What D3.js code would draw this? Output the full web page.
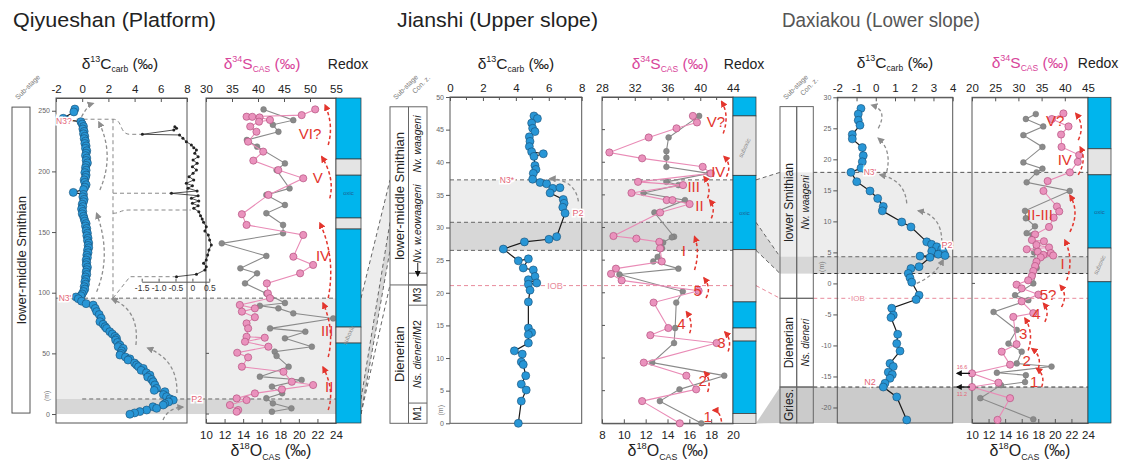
<!DOCTYPE html>
<html><head><meta charset="utf-8">
<script src="https://cdn.jsdelivr.net/npm/d3@7"></script>
<style>
body{margin:0;background:#fff;}
svg{font-family:"Liberation Sans",Arial,sans-serif;}
</style></head><body>
<script>
// ===== Data: [height (m), value (‰)] =====
// Qiyueshan (platform)
const qyCarb = [[251.4,-0.56],[249.0,-0.64],[243.8,-1.45],[242.4,-1.24],[241,-0.10],[239,0.00],[237,0.10],[235,0.05],[233,0.15],[231,0.10],[229,0.20],[227,0.15],[225,0.25],[223,0.20],[221,0.30],[219,0.25],[217,0.35],[215,0.30],[213,0.25],[211,0.35],[209,0.30],[207,0.40],[205,0.30],[203,0.25],[201,0.30],[199,0.20],[197,0.30],[195,0.25],[193,0.15],[191,0.20],[189,0.30],[187,0.20],[185,0.10],[182.7,-0.68],[181,0.10],[179,0.05],[177,0.15],[175,0.10],[173,0.00],[171,0.05],[169,-0.05],[167,0.05],[165,0.00],[163,0.10],[161,0.15],[159,0.20],[157,0.30],[155,0.25],[153,0.35],[151,0.30],[149,0.40],[147,0.35],[145,0.45],[143,0.40],[141,0.50],[139,0.45],[137,0.50],[135,0.40],[133,0.45],[131,0.35],[129,0.40],[127,0.30],[125,0.35],[123,0.30],[121,0.40],[119,0.35],[117,0.30],[115,0.35],[113,0.25],[111,0.30],[109,0.20],[107,0.25],[105,0.15],[103,0.20],[101,0.10],[99,0.00],[97.5,-0.10],[96.5,-0.48],[95,-0.30],[93,-0.05],[91,0.30],[89.8,0.84],[87,1.00],[84.4,1.10],[82,1.30],[79,1.45],[76.1,1.35],[74,1.60],[72,1.75],[70.6,1.86],[67.9,2.11],[66,2.30],[64,2.50],[62.4,2.62],[61,2.55],[59,2.70],[56.9,2.88],[55.5,2.75],[54.1,3.13],[52,3.00],[50,2.95],[48.6,2.88],[47,3.30],[45.5,3.64],[44.5,3.50],[42,4.00],[40.4,4.15],[39,4.30],[37.6,4.66],[36,4.50],[34,4.90],[32.1,5.17],[30.5,5.00],[28.5,5.30],[26.6,5.42],[24,5.55],[21.1,5.68],[19.5,5.50],[18.4,6.31],[16,6.20],[14.3,6.44],[12.5,6.70],[11.5,6.95],[10,6.60],[8.5,6.30],[7.4,6.18],[6,5.40],[4.7,5.68],[3.3,4.92],[2,4.40],[0.9,4.00],[-0.2,3.64]];
const qyCarbDetail = [[250.9,-0.52],[249.2,-0.47],[247.5,-0.55],[243.0,-1.48],[242.3,-0.38],[238.9,-0.28],[235.4,-0.18],[232.0,-0.03],[229.2,0.04],[226.8,0.12],[223.4,0.07],[219.8,0.17],[216.4,0.02],[213.0,0.14],[209.5,0.00],[206.1,0.12],[202.7,0.02],[199.2,-0.10],[195.8,0.04],[192.3,-0.18],[189.9,0.00],[187.2,-0.13],[184.4,0.14],[182.0,-0.62],[179.6,0.17],[177.0,-0.03],[174.4,0.19],[172.1,0.00],[169.7,0.17],[167.2,0.04],[163.7,0.19],[159.6,0.24],[156.1,0.29],[152.7,0.33],[148.1,0.41],[143.6,0.37],[139.5,0.47],[134.2,0.51],[129.0,0.56],[123.8,0.49],[118.6,0.45],[113.4,0.41],[110.0,0.33],[106.4,0.41],[103.0,0.37],[98.5,0.12],[96.0,-0.47]];
const qyS = [[251.1,51.0],[246.4,48.4],[245.1,37.8],[245.0,38.9],[244.5,40.3],[242.4,42.3],[241.0,40.2],[237.0,38.5],[232.7,39.7],[224.5,38.1],[216.3,41.0],[208.9,39.1],[201.1,43.9],[194.3,48.7],[180.6,42.0],[164.7,36.9],[155.9,37.8],[147.6,48.7],[129.7,46.8],[122.9,50.6],[116.0,48.1],[107.7,41.7],[99.4,41.9],[95.5,42.3],[89.9,36.5],[87.1,39.4],[84.4,36.9],[79.8,39.4],[74.7,37.8],[70.6,38.1],[63.7,37.8],[62.9,41.3],[59.6,37.5],[55.5,42.0],[50.5,36.0],[46.7,38.1],[39.0,36.9],[34.8,44.9],[26.6,46.5],[23.9,50.6],[20.3,44.6],[17.0,39.4],[12.9,35.9],[11.5,37.8],[7.4,34.6],[3.3,36.2],[1.9,35.9]];
const qyO = [[251.1,16.2],[242.2,19.4],[238.4,17.2],[232.7,17.8],[225.9,14.4],[220.4,15.5],[206.6,18.5],[201.1,17.6],[186.0,19.0],[180.6,16.5],[172.3,18.5],[165.5,16.5],[155.9,18.3],[149.0,18.3],[140.7,11.7],[130.3,16.5],[120.1,13.7],[116.0,15.5],[107.7,14.2],[99.4,16.5],[91.5,18.5],[89.2,15.8],[87.1,17.8],[83.0,19.4],[78.8,23.7],[70.6,16.9],[67.9,20.7],[62.4,18.5],[55.5,21.4],[51.4,17.4],[47.9,17.6],[39.0,18.9],[30.8,15.8],[28.1,20.3],[22.6,17.1],[17.1,18.2],[13.0,16.5],[8.8,17.2],[4.7,19.2],[1.9,17.1]];

// Jianshi (upper slope)
const jsCarb = [[47.1,5.10],[46.7,5.31],[46.0,4.96],[45.2,5.02],[44.7,5.16],[43.9,4.82],[43.2,4.86],[42.4,4.82],[41.6,4.96],[41.3,5.67],[40.9,5.10],[39.5,5.16],[38.9,5.22],[38.3,5.06],[37.4,5.02],[36.9,5.47],[36.7,5.87],[36.0,6.24],[36.1,6.68],[35.3,6.08],[34.3,6.88],[33.7,6.93],[33.1,6.85],[32.2,6.99],[28.6,6.48],[28.2,6.01],[27.8,4.52],[26.7,3.24],[24.9,4.15],[25.2,4.76],[23.8,4.45],[23.5,5.06],[22.5,5.16],[22.0,4.76],[21.5,5.27],[21.3,4.76],[20.4,4.86],[18.6,4.76],[14.6,4.76],[13.9,4.96],[13.6,4.76],[12.3,4.76],[11.1,3.91],[10.6,4.39],[9.4,4.33],[9.0,4.45],[7.3,4.60],[6.0,4.33],[5.1,4.63],[3.4,4.33],[0.0,4.15]];
const jsS = [[47.1,39.1],[46.1,39.6],[45.2,37.1],[43.8,33.7],[41.5,28.9],[40.6,32.9],[39.3,40.3],[38.3,41.3],[37.0,32.4],[36.5,37.9],[35.3,31.6],[34.2,35.9],[34.2,36.6],[33.6,38.7],[32.3,35.1],[28.7,29.4],[28.3,32.2],[27.8,35.0],[26.8,35.1],[24.8,35.3],[23.7,29.7],[22.9,29.1],[21.9,30.4],[20.3,39.8],[18.5,34.3],[14.6,36.1],[13.5,33.9],[12.3,42.0],[9.3,33.1],[7.3,38.3],[5.2,39.5],[3.4,32.9],[0.0,37.5]];
const jsO = [[47.1,16.9],[43.8,14.1],[41.7,13.9],[40.7,13.9],[39.3,13.9],[38.3,17.8],[37.0,13.9],[36.5,15.0],[35.3,11.8],[34.2,15.6],[32.3,12.8],[28.6,14.6],[28.5,14.4],[27.7,13.6],[26.8,13.5],[25.5,13.1],[24.8,12.7],[23.7,15.0],[22.8,9.6],[20.2,15.4],[18.5,14.8],[14.6,14.7],[12.3,14.6],[9.3,12.6],[7.3,19.2],[5.2,15.1],[3.4,13.3],[0.0,17.1]];

// Daxiakou (lower slope)
const dxCarb = [[28.2,-0.77],[27.3,-0.91],[26.3,-0.91],[25.5,-0.82],[24.0,-1.22],[23.3,-1.22],[21.9,-0.70],[20.6,-0.65],[19.6,-0.70],[18.6,-0.77],[17.9,-1.29],[16.4,-0.99],[14.9,-0.30],[13.7,0.10],[12.4,0.39],[11.7,0.34],[9.9,1.35],[9.1,1.83],[6.7,2.65],[6.3,2.90],[5.9,3.17],[5.5,3.43],[5.2,2.91],[5.1,3.51],[4.7,3.25],[4.5,3.60],[4.4,2.30],[4.2,2.82],[2.7,2.25],[2.4,1.83],[1.6,1.69],[0.9,1.78],[0.2,1.87],[-1.9,2.25],[-2.6,2.10],[-4.0,0.83],[-5.1,0.91],[-5.5,0.79],[-8.2,1.14],[-9.7,1.09],[-10.9,1.26],[-12.9,0.74],[-13.4,0.91],[-14.3,0.65],[-14.7,0.86],[-15.3,0.74],[-16.1,0.48],[-16.7,0.39],[-18.3,1.09],[-22.0,1.61]];
const dxS = [[27.4,39.7],[26.5,37.2],[25.3,40.8],[24.0,39.2],[22.0,39.3],[20.7,43.1],[19.6,42.8],[17.9,41.1],[16.5,36.3],[14.9,35.4],[12.4,38.3],[11.6,38.8],[10.6,37.6],[9.1,36.6],[7.9,33.6],[7.0,32.9],[6.8,35.5],[6.2,33.9],[5.8,36.6],[5.5,31.8],[5.1,34.2],[4.9,37.0],[4.6,35.4],[4.5,37.5],[4.2,34.8],[3.5,33.9],[2.8,33.6],[2.0,33.2],[1.2,32.9],[0.5,32.1],[-0.2,29.6],[-0.8,30.7],[-1.8,34.3],[-2.9,30.7],[-4.8,33.2],[-5.4,28.9],[-9.8,29.6],[-11.0,26.4],[-13.1,28.2],[-14.5,16.6],[-16.0,25.7],[-16.7,11.2],[-18.5,28.2],[-22.0,25.5]];
const dxO = [[27.3,17.7],[26.5,16.5],[25.3,18.6],[23.9,16.2],[22.0,18.5],[19.5,16.2],[18.5,18.5],[17.9,17.8],[16.3,16.6],[14.9,21.8],[11.7,16.4],[10.5,16.5],[9.2,17.6],[8.1,16.6],[7.8,17.3],[5.0,17.5],[2.5,17.8],[0.0,17.4],[-1.9,15.2],[-2.7,16.8],[-4.6,12.6],[-7.5,15.4],[-9.7,14.4],[-11.0,16.0],[-12.9,15.4],[-13.4,19.6],[-14.4,13.0],[-14.8,16.5],[-15.9,16.4],[-16.4,13.5],[-18.5,11.0],[-21.9,17.4]];

// Redox intervals [top, base, state]
const qyRedox = [[260.5,210.2,"oxic"],[210.2,196.9,"suboxic"],[196.9,161.6,"oxic"],[161.6,152.5,"suboxic"],[152.5,71.7,"oxic"],[71.7,58.5,"suboxic"],[58.5,-7.4,"oxic"]];
const jsRedox = [[50,47.1,"oxic"],[47.1,38.0,"suboxic"],[38.0,26.6,"oxic"],[26.6,18.6,"suboxic"],[18.6,14.6,"oxic"],[14.6,12.6,"suboxic"],[12.6,1.5,"oxic"],[1.5,0,"suboxic"]];
const dxRedox = [[30,21.7,"oxic"],[21.7,17.5,"suboxic"],[17.5,5.7,"oxic"],[5.7,0.26,"suboxic"],[0.26,-22.5,"oxic"]];
const qyRedoxTags = [[182.2,"oxic"],[65,"suboxic"]];
const jsRedoxTags = [[42.2,"suboxic"],[32.2,"oxic"]];
const dxRedoxTags = [[11.5,"oxic"],[3.0,"suboxic"]];

// Tick values
const qyCTicks = [-2,0,2,4,6,8], qySTicks = [30,35,40,45,50,55], qyOTicks = [10,12,14,16,18,20,22,24], qyHTicks = [0,50,100,150,200,250];
const qyDetailTicks = [-1.5,-1,-0.5,0,0.5];
const jsCTicks = [0,2,4,6,8], jsCMinor = [1,3,5,7], jsSTicks = [28,32,36,40,44], jsSMinor = [30,34,38,42], jsOTicks = [8,10,12,14,16,18,20], jsHTicks = [0,5,10,15,20,25,30,35,40,45,50];
const dxCTicks = [-2,-1,0,1,2,3,4], dxSTicks = [20,25,30,35,40,45], dxOTicks = [10,12,14,16,18,20,22,24], dxHTicks = [-20,-15,-10,-5,0,5,10,15,20,25,30];

// Marker horizons (m)
const qyHor = {n3q:243, n3p:95.5, p2:12.4, base:0};
const jsHor = {n3:37.3, p2:30.8, low:26.5, iob:21.1};
const dxHor = {n3:17.9, p2:4.3, low:1.6, iob:-2.4, n2:-16.7, bottom:-22.5};

// Sub-stages and zones [top, base, name]
const qySub = [[253,0.8,"lower-middle Smithian"]];
const jsSub = [[48.5,21.2,"lower-middle Smithian"],[21.2,0,"Dienerian"]];
const jsZoneLines = [23.0,21.2,18.1,3.1];
const dxSub = [[28.5,-2.4,"lower Smithian"],[-2.4,-16.7,"Dienerian"],[-16.7,-22.5,"Gries."]];
const dxZone = [[28.5,-2.4,"Nv. waageni"],[-2.4,-16.7,"Ns. dieneri"],[-16.7,-22.5,""]];

// Cycle arrows [[value,height] start, control, end] and labels
const qyCycles = [[[53.5,221.8],[54.6,238.3],[52.9,254.7]],[[53.8,177.8],[54.8,194.6],[52.25,212.1]],[[53.5,95.6],[55.0,128.6],[51.9,157.5]],[[53.5,47],[54.8,69.2],[52.5,91.5]],[[53.5,3.3],[54.8,19.8],[52.5,38.7]]];
const qyCycleTags = [["VI?",50.0,231.5],["V",51.5,194.6],["IV",52.5,131],["III",53.3,69],["II",53.7,22.3]];
const qyTrend = [[[6.17,-4.9],[6.54,4.9],[7.69,5.8]],[[7.23,17.3],[7.3,44.5],[5.0,54.4]],[[4.1,56.9],[4.4,85.7],[2.27,94.8]],[[1.1,100.8],[2.27,131],[1.1,165.5]],[[1.35,184.7],[2.5,213.5],[1.27,240.7]],[[-0.05,245],[0.43,254.7],[0.84,256.1]]];
const jsCycles = [[[42.8,44.4],[43.6,47.2],[42.6,49.3]],[[43.2,37.8],[43.9,39.6],[42.9,40.9]],[[40.9,34.5],[41.4,36.2],[40.45,37.8]],[[41.35,31.4],[41.9,33.0],[41.15,34.2]],[[39.3,23.5],[40.0,26.3],[39.3,28.6]],[[40.7,19.2],[41.4,20.7],[40.45,22.3]],[[38.7,13.8],[39.2,15.5],[38.3,17.1]],[[43.4,11.0],[43.9,12.8],[43.0,14.0]],[[40.9,4.8],[41.4,6.6],[40.5,7.9]],[[42.6,0.25],[42.4,2.0],[41.55,2.0]]];
const jsCycleTags = [["V?",41.9,46.2],["IV",42.2,38.6],["III",39.2,36.3],["II",39.9,33.4],["I",38.0,26.5],["5",39.7,20.4],["4",37.7,15.3],["3",42.6,12.3],["2",40.3,6.6],["1",40.9,1.0]];
const jsTrend = [[[7.8,34.0],[7.6,37.3],[6.08,37.5]]];
const dxCycles = [[[42.9,23.1],[44.4,25.5],[42.35,27.4]],[[42.9,17.5],[44.8,19.9],[43.3,22.0]],[[41.1,8.3],[43.3,11.5],[41.1,14.2]],[[40.4,0.5],[42.0,3.8],[40.0,7.0]],[[39.3,-3.8],[40.7,-1.9],[39.0,-0.3]],[[35.7,-6.2],[36.8,-4.5],[35.4,-3.2]],[[32.1,-10.8],[33.4,-8.0],[31.4,-5.6]],[[34.3,-13.7],[35.1,-11.7],[32.9,-10.5]],[[35.0,-16.7],[35.9,-14.8],[33.9,-13.7]]];
const dxCycleTags = [["V?",37.9,26.3],["IV",40.0,19.9],["II-III",34.65,11.1],["I",39.5,3.2],["5?",36.4,-1.8],["4",33.9,-4.8],["3",31.05,-8.1],["2",31.8,-12.4],["1",33.4,-15.9]];
const dxTrend = [[[0.13,25.0],[0.64,27.95],[-0.21,28.75]],[[0.57,18.0],[0.84,21.5],[0.13,23.4]],[[1.61,12.9],[1.52,16.7],[0.22,17.5]],[[3.43,6.7],[3.44,11.0],[2.21,11.7]],[[2.13,0],[3.08,1.3],[3.51,3.8]]];

// ===== Styles =====
const BLUE="#2896d6", BLUE_S="#184d74", PINK="#ea92bd", PINK_S="#b5527f", PINK_L="#e98bb6", GRAY="#8a8a8a";
const CYAN="#00b5ed", SUBOX="#e4e4e4", SH_L="#ededed", SH_D="#d7d7d7", SH_G="#cbcbcb";
const RED="#e3352d", TAG="#e46679", FRAME="#555";

const svg = d3.select("body").append("svg").attr("width",1126).attr("height",464);
const defs = svg.append("defs");
function marker(id,color,size){
  defs.append("marker").attr("id",id).attr("viewBox","0 0 10 10").attr("refX",8).attr("refY",5)
    .attr("markerWidth",size).attr("markerHeight",size).attr("markerUnits","userSpaceOnUse").attr("orient","auto")
    .append("path").attr("d","M0,0L10,5L0,10z").attr("fill",color);
}
marker("hGray","#8d8d8d",7); marker("hRed",RED,7); marker("hBlack","#111",6);

const L = n => svg.append("g").attr("class",n);
const gShade=L("shade"), gConn=L("links"), gHor=L("horizons"), gFrame=L("frames"), gData=L("data"), gAnno=L("anno"), gRedox=L("redox"), gCols=L("columns"), gText=L("text");

// ===== Helpers =====
function band(g,x0,x1,y,top,base,fill){
  g.append("rect").attr("x",x0).attr("width",x1-x0).attr("y",y(top)).attr("height",y(base)-y(top)).attr("fill",fill);
}
function hline(g,yp,x0,x1,color,dash,w){
  g.append("line").attr("x1",x0).attr("x2",x1).attr("y1",yp).attr("y2",yp).attr("stroke",color).attr("stroke-width",w||1).attr("stroke-dasharray",dash||"4,3");
}
function box(g,x0,x1,y0,y1){
  g.append("rect").attr("x",x0).attr("y",y0).attr("width",x1-x0).attr("height",y1-y0).attr("fill","none").attr("stroke",FRAME).attr("stroke-width",1);
}
function styleAxis(a,size,color){
  a.attr("font-family",null).attr("font-size",null);
  a.selectAll("text").attr("font-size",size).attr("fill",color||"#222");
  a.selectAll("line").attr("stroke",FRAME);
  a.select(".domain").attr("stroke",FRAME);
}
const fmt = d => String(d);
function axisTop(scale,ticks,yp,minor){
  const a = gFrame.append("g").attr("transform",`translate(0,${yp})`)
    .call(d3.axisTop(scale).tickValues(ticks).tickSizeInner(-4).tickSizeOuter(0).tickPadding(5).tickFormat(fmt));
  styleAxis(a,11.5);
  (minor||[]).forEach(v=>a.append("line").attr("x1",scale(v)).attr("x2",scale(v)).attr("y1",0).attr("y2",3).attr("stroke",FRAME));
}
function axisBottom(scale,ticks,yp){
  const a = gFrame.append("g").attr("transform",`translate(0,${yp})`)
    .call(d3.axisBottom(scale).tickValues(ticks).tickSizeInner(-4).tickSizeOuter(0).tickPadding(8).tickFormat(fmt));
  styleAxis(a,11.5);
}
function axisLeft(scale,ticks,xp){
  const a = gFrame.append("g").attr("transform",`translate(${xp},0)`)
    .call(d3.axisLeft(scale).tickValues(ticks).tickSizeInner(4).tickSizeOuter(0).tickPadding(2).tickFormat(fmt));
  styleAxis(a,7,"#666");
  a.select(".domain").remove();
}
function innerTicks(y,ticks,xp){
  ticks.forEach(t=>gFrame.append("line").attr("x1",xp).attr("x2",xp+3).attr("y1",y(t)).attr("y2",y(t)).attr("stroke",FRAME));
}
function series(data,xs,ys,o){
  const line = d3.line().x(d=>xs(d[1])).y(d=>ys(d[0]));
  gData.append("path").attr("d",line(data)).attr("fill","none").attr("stroke",o.line).attr("stroke-width",o.lw);
  gData.append("g").selectAll("circle").data(data).join("circle")
    .attr("cx",d=>xs(d[1])).attr("cy",d=>ys(d[0])).attr("r",o.r)
    .attr("fill",o.fill).attr("stroke",o.stroke).attr("stroke-width",o.sw);
}
const styO = {line:GRAY,lw:1.1,r:2.9,fill:"#8a8a8a",stroke:"#777",sw:0.5};
const styS = {line:PINK_L,lw:1.1,r:3.6,fill:PINK,stroke:PINK_S,sw:0.7};
const styC = {line:"#1a1a1a",lw:1.2,r:4,fill:BLUE,stroke:BLUE_S,sw:0.6};
function curve(p,xs,ys,color,mk,w){
  const [a,b,c]=p.map(q=>[xs(q[0]),ys(q[1])]);
  gAnno.append("path").attr("d",`M${a[0]},${a[1]}Q${b[0]},${b[1]} ${c[0]},${c[1]}`)
    .attr("fill","none").attr("stroke",color).attr("stroke-width",w).attr("stroke-dasharray","3.5,2.5").attr("marker-end",`url(#${mk})`);
}
function cycleTag(t,xs,ys){
  gAnno.append("text").attr("x",xs(t[1])).attr("y",ys(t[2])).attr("dy","0.36em").attr("text-anchor","middle")
    .attr("font-size",15).attr("fill",RED).text(t[0]);
}
function tag(x,y,txt,size,color){
  gAnno.append("text").attr("x",x).attr("y",y).attr("dy","0.35em").attr("text-anchor","middle")
    .attr("font-size",size||8.5).attr("fill",color||TAG).attr("stroke","#fff").attr("stroke-width",3)
    .attr("paint-order","stroke").text(txt);
}
function redox(iv,tags,x0,x1,y){
  iv.forEach(([t,b,s])=>gRedox.append("rect").attr("x",x0).attr("width",x1-x0).attr("y",y(t)).attr("height",y(b)-y(t))
    .attr("fill",s==="oxic"?CYAN:SUBOX).attr("stroke","#333").attr("stroke-width",0.7));
  tags.forEach(([h,s])=>{
    const cx=(x0+x1)/2, cy=y(h);
    gRedox.append("text").attr("transform",`translate(${cx},${cy}) rotate(${s==="oxic"?0:-65})`).attr("text-anchor","middle")
      .attr("dy","0.35em").attr("font-size",6).attr("fill",s==="oxic"?"#1f5d8f":"#8a8a8a").text(s);
  });
}
function iso(x,y,mass,el,sub,color,size){
  const t = gText.append("text").attr("x",x).attr("y",y).attr("text-anchor","middle").attr("fill",color).attr("font-size",size);
  t.append("tspan").text("δ");
  t.append("tspan").attr("font-size",size*0.58).attr("dy",-size*0.42).text(mass);
  t.append("tspan").attr("dy",size*0.42).text(el);
  t.append("tspan").attr("font-size",size*0.55).attr("dy",size*0.22).text(sub);
  t.append("tspan").attr("dy",-size*0.22).text(" (‰)");
}
function vtext(g,x,y,txt,size,opts){
  const t = g.append("text").attr("transform",`translate(${x},${y}) rotate(-90)`).attr("text-anchor","middle")
    .attr("dy","0.35em").attr("font-size",size).attr("fill",(opts&&opts.color)||"#222");
  if(opts&&opts.italic) t.attr("font-style","italic");
  t.text(txt);
  return t;
}
function diag(x,y,txt){
  gText.append("text").attr("transform",`translate(${x},${y}) rotate(-45)`).attr("font-size",7).attr("fill","#777").text(txt);
}
function title(x,txt,len,color){
  gText.append("text").attr("x",x).attr("y",27).attr("font-size",20.5).attr("fill",color)
    .attr("textLength",len).attr("lengthAdjust","spacingAndGlyphs").text(txt);
}

// ===== Qiyueshan =====
const Q = {
  y: d3.scaleLinear().domain([-7.4,260.5]).range([423,98]),
  c: d3.scaleLinear().domain([-2,8]).range([56,187]),
  s: d3.scaleLinear().domain([30,55]).range([206,336]),
  o: d3.scaleLinear().domain([10,24]).range([206,336]),
  red:[336,361]
};
Q.dy = d3.scaleLinear().domain([96,165.5,182,243]).range([276.7,210,193.3,134.3]);
Q.dx = d3.scaleLinear().domain([-1.5,0.5]).range([141.7,209.3]);

band(gShade,56,Q.red[0],Q.y,qyHor.n3p,qyHor.base,SH_L);
band(gShade,56,Q.red[0],Q.y,qyHor.p2,qyHor.base,SH_D);
box(gFrame,56,187,98,423);
box(gFrame,206,336,98,423);
axisTop(Q.c,qyCTicks,98);
axisTop(Q.s,qySTicks,98);
axisBottom(Q.o,qyOTicks,423);
axisLeft(Q.y,qyHTicks,56);
innerTicks(Q.y,[0,50],206);
hline(gHor,Q.y(qyHor.n3p),56,Q.red[0],"#666");
hline(gHor,Q.y(qyHor.p2),Q.c(0),Q.red[0],"#666");
// guides into the detail curve
const gx = Q.c(2.35);
gHor.append("path").attr("fill","none").attr("stroke","#888").attr("stroke-dasharray","4,3")
  .attr("d",`M${Q.c(-0.43)},${Q.y(243)}H${gx}C${gx+10},${Q.y(243)} ${gx+6},${Q.dy(243)} ${gx+17},${Q.dy(243)}H${Q.dx(-1.48)}`
   +`M${gx},${Q.y(243)}V${Q.y(qyHor.n3p)}`
   +`M${gx},${Q.y(182)}H${Q.dx(-0.62)}`
   +`M${gx},${Q.y(165.5)}C${gx+8},${Q.y(165.5)} ${gx+6},${Q.dy(165.5)} ${gx+17},${Q.dy(165.5)}H${Q.dx(-0.05)}`
   +`M${gx},${Q.y(qyHor.n3p)}L${gx+17},${Q.dy(96)}H${Q.dx(-0.47)}`);
// detail curve
{
  const ln = d3.line().x(d=>Q.dx(d[1])).y(d=>Q.dy(d[0]));
  gData.append("path").attr("d",ln(qyCarbDetail)).attr("fill","none").attr("stroke","#222").attr("stroke-width",0.8);
  gData.append("g").selectAll("circle").data(qyCarbDetail).join("circle").attr("cx",d=>Q.dx(d[1])).attr("cy",d=>Q.dy(d[0])).attr("r",1.5).attr("fill","#222");
  const a = gFrame.append("g").attr("transform",`translate(0,${Q.dy(96)+5})`)
    .call(d3.axisBottom(Q.dx).tickValues(qyDetailTicks).tickSizeInner(-3).tickSizeOuter(0).tickPadding(3).tickFormat(d=>d===0?"0":d.toFixed(1)));
  styleAxis(a,8.5,"#333");
}
series(qyO,Q.o,Q.y,styO);
series(qyS,Q.s,Q.y,styS);
series(qyCarb,Q.c,Q.y,styC);
qyTrend.forEach(p=>curve(p,Q.c,Q.y,"#8d8d8d","hGray",1.3));
qyCycles.forEach(p=>curve(p,Q.s,Q.y,RED,"hRed",1.5));
qyCycleTags.forEach(t=>cycleTag(t,Q.s,Q.y));
tag(Q.c(-1.4),Q.y(qyHor.n3q)+2,"N3?");
tag(Q.c(-1.32),Q.y(qyHor.n3p),"N3'");
tag(Q.c(8.75),Q.y(qyHor.p2),"P2",9);
redox(qyRedox,qyRedoxTags,Q.red[0],Q.red[1],Q.y);
qySub.forEach(([t,b,n])=>{
  box(gCols,12,30,Q.y(t),Q.y(b));
  vtext(gCols,21,(Q.y(t)+Q.y(b))/2,n,13);
});
diag(18,100,"Sub-stage");
vtext(gText,47,Q.y(15),"(m)",7,{color:"#777"});
title(13,"Qiyueshan (Platform)",203,"#222");
iso(120,69,"13","C","carb","#222",15.5);
iso(262,69,"34","S","CAS","#d8459a",15.5);
gText.append("text").attr("x",348).attr("y",69).attr("text-anchor","middle").attr("font-size",14).attr("fill","#222").text("Redox");
iso(271,456,"18","O","CAS","#222",16);

// ===== Jianshi =====
const J = {
  y: d3.scaleLinear().domain([0,50]).range([423.3,97]),
  c: d3.scaleLinear().domain([0,8]).range([450,581.7]),
  s: d3.scaleLinear().domain([28,44]).range([602,733]),
  o: d3.scaleLinear().domain([8,20]).range([602,733]),
  red:[733,756], sub:[390,408.5], zone:[408.5,427]
};
band(gShade,450,J.red[0],J.y,jsHor.n3,jsHor.low,SH_L);
band(gShade,450,J.red[0],J.y,jsHor.p2,jsHor.low,SH_D);
box(gFrame,450,581.7,97,423.3);
box(gFrame,602,733,97,423.3);
axisTop(J.c,jsCTicks,97,jsCMinor);
axisTop(J.s,jsSTicks,97,jsSMinor);
axisBottom(J.o,jsOTicks,423.3);
axisLeft(J.y,jsHTicks,450);
innerTicks(J.y,jsHTicks.slice(1,-1),602);
hline(gHor,J.y(jsHor.n3),450,J.red[0],"#666");
hline(gHor,J.y(jsHor.p2),450,J.red[0],"#666");
hline(gHor,J.y(jsHor.low),450,J.red[1],"#666");
hline(gHor,J.y(jsHor.iob),450,J.red[1],"#e88a9b");
series(jsO,J.o,J.y,styO);
series(jsS,J.s,J.y,styS);
series(jsCarb,J.c,J.y,styC);
jsTrend.forEach(p=>curve(p,J.c,J.y,"#8d8d8d","hGray",1.3));
jsCycles.forEach(p=>curve(p,J.s,J.y,RED,"hRed",1.5));
jsCycleTags.forEach(t=>cycleTag(t,J.s,J.y));
tag(J.c(3.46),J.y(jsHor.n3),"N3*");
tag(J.c(7.78),J.y(32.3),"P2",9);
tag(J.c(6.38),J.y(jsHor.iob),"IOB",9,"#e88a9b");
redox(jsRedox,jsRedoxTags,J.red[0],J.red[1],J.y);
// stratigraphic columns
gCols.append("rect").attr("x",J.sub[0]).attr("y",J.y(48.5)).attr("width",J.zone[1]-J.sub[0]).attr("height",J.y(0)-J.y(48.5)).attr("fill","#fff").attr("stroke","#666");
gCols.append("line").attr("x1",J.sub[1]).attr("x2",J.sub[1]).attr("y1",J.y(48.5)).attr("y2",J.y(0)).attr("stroke","#666");
jsSub.forEach(([t,b,n],i)=>{
  if(i>0) gCols.append("line").attr("x1",J.sub[0]).attr("x2",J.zone[1]).attr("y1",J.y(t)).attr("y2",J.y(t)).attr("stroke","#666");
  vtext(gCols,(J.sub[0]+J.sub[1])/2,(J.y(t)+J.y(b))/2,n,13);
});
jsZoneLines.forEach(h=>gCols.append("line").attr("x1",J.zone[0]).attr("x2",J.zone[1]).attr("y1",J.y(h)).attr("y2",J.y(h)).attr("stroke","#666"));
{
  const zx=(J.zone[0]+J.zone[1])/2;
  vtext(gCols,zx,J.y(42.8),"Nv. waageni",10.5,{italic:true});
  vtext(gCols,zx,J.y(30.6),"Nv. w.eowaageni",10.5,{italic:true});
  gCols.append("line").attr("x1",zx).attr("x2",zx).attr("y1",J.y(24.6)).attr("y2",J.y(22.6)).attr("stroke","#222").attr("marker-end","url(#hBlack)");
  vtext(gCols,zx,J.y(19.65),"M3",10.5);
  const t = vtext(gCols,zx,J.y(10.6),"",10.5);
  t.append("tspan").attr("font-style","italic").text("Ns. dieneri");
  t.append("tspan").text("/M2");
  vtext(gCols,zx,J.y(1.55),"M1",10.5);
}
diag(396,100,"Sub-stage"); diag(415,94,"Con. z.");
vtext(gText,441,J.y(2),"(m)",7,{color:"#777"});
title(397,"Jianshi (Upper slope)",201,"#222");
iso(516,69,"13","C","carb","#222",15.5);
iso(670,69,"34","S","CAS","#d8459a",15.5);
gText.append("text").attr("x",744).attr("y",69).attr("text-anchor","middle").attr("font-size",14).attr("fill","#222").text("Redox");
iso(668,456,"18","O","CAS","#222",16);

// ===== Daxiakou =====
const D = {
  y: d3.scaleLinear().domain([-22.5,30]).range([423,97.3]),
  c: d3.scaleLinear().domain([-2,4]).range([837.3,952.7]),
  s: d3.scaleLinear().domain([20,45]).range([972,1088]).clamp(true),
  o: d3.scaleLinear().domain([10,24]).range([972,1088]),
  red:[1088,1111], sub:[780,796.7], zone:[796.7,813.3]
};
band(gShade,D.sub[0],D.red[0],D.y,dxHor.n3,dxHor.low,SH_L);
band(gShade,D.sub[0],D.red[0],D.y,dxHor.p2,dxHor.low,SH_D);
band(gShade,D.sub[0],D.red[0],D.y,dxHor.n2,dxHor.bottom,SH_G);
box(gFrame,837.3,952.7,97.3,423);
box(gFrame,972,1088,97.3,423);
axisTop(D.c,dxCTicks,97.3);
axisTop(D.s,dxSTicks,97.3);
axisBottom(D.o,dxOTicks,423);
axisLeft(D.y,dxHTicks,837.3);
innerTicks(D.y,[0],972);
hline(gHor,D.y(dxHor.n3),813.3,D.red[0],"#555");
hline(gHor,D.y(dxHor.p2),813.3,D.red[0],"#666");
hline(gHor,D.y(dxHor.low),813.3,D.red[0],"#333");
hline(gHor,D.y(dxHor.iob),813.3,D.red[0],"#e88a9b");
hline(gHor,D.y(dxHor.n2),813.3,D.red[0],"#333");
series(dxO,D.o,D.y,styO);
series(dxS,D.s,D.y,styS);
series(dxCarb,D.c,D.y,styC);
// values below the δ34S scale
dxS.filter(d=>d[1]<D.s.domain()[0]).forEach((d,i)=>{
  const yy=D.y(d[0]);
  gAnno.append("line").attr("x1",D.s.range()[0]-2).attr("x2",D.s.range()[0]-15).attr("y1",yy).attr("y2",yy).attr("stroke","#111").attr("stroke-width",1.3).attr("marker-end","url(#hBlack)");
  gAnno.append("text").attr("x",D.s.range()[0]-10).attr("y",yy+(i===0?-6:7)).attr("dy","0.35em").attr("text-anchor","middle").attr("font-size",5.5).attr("fill",TAG).text(d[1]);
});
dxTrend.forEach(p=>curve(p,D.c,D.y,"#8d8d8d","hGray",1.3));
dxCycles.forEach(p=>curve(p,D.s,D.y,RED,"hRed",1.5));
dxCycleTags.forEach(t=>cycleTag(t,D.s,D.y));
tag(D.c(-0.3),D.y(dxHor.n3),"N3'");
tag(D.c(3.7),D.y(6.2),"P2",9);
tag(D.c(-0.93),D.y(dxHor.iob),"IOB",8,"#e88a9b");
tag(D.c(-0.3),D.y(-15.8),"N2",9);
redox(dxRedox,dxRedoxTags,D.red[0],D.red[1],D.y);
dxSub.forEach(([t,b,n],i)=>{
  gCols.append("rect").attr("x",D.sub[0]).attr("y",D.y(t)).attr("width",D.sub[1]-D.sub[0]).attr("height",D.y(b)-D.y(t)).attr("fill","none").attr("stroke","#666");
  vtext(gCols,(D.sub[0]+D.sub[1])/2,(D.y(t)+D.y(b))/2,n,12);
});
dxZone.forEach(([t,b,n])=>{
  gCols.append("rect").attr("x",D.zone[0]).attr("y",D.y(t)).attr("width",D.zone[1]-D.zone[0]).attr("height",D.y(b)-D.y(t)).attr("fill","none").attr("stroke","#666");
  if(n) vtext(gCols,(D.zone[0]+D.zone[1])/2,(D.y(t)+D.y(b))/2,n,10,{italic:true});
});
diag(786,100,"Sub-stage"); diag(803,96,"Con. z.");
vtext(gText,822,D.y(2.7),"(m)",7,{color:"#777"});
title(782,"Daxiakou (Lower slope)",198,"#555");
iso(895,68,"13","C","carb","#222",15.5);
iso(1030,68,"34","S","CAS","#d8459a",15.5);
gText.append("text").attr("x",1098).attr("y",68).attr("text-anchor","middle").attr("font-size",14).attr("fill","#222").text("Redox");
iso(1030,456,"18","O","CAS","#222",16);

// ===== Correlation between sections =====
function poly(pts,fill){ gConn.append("path").attr("d","M"+pts.map(p=>p.join(",")).join("L")+"Z").attr("fill",fill); }
function link(p0,p1,color){ gConn.append("line").attr("x1",p0[0]).attr("y1",p0[1]).attr("x2",p1[0]).attr("y2",p1[1]).attr("stroke",color||"#666").attr("stroke-dasharray","4,3"); }
{
  const a=Q.red[1], b=J.sub[0];
  poly([[a,Q.y(qyHor.n3p)],[b,J.y(jsHor.n3)],[b,J.y(jsHor.p2)],[a,Q.y(qyHor.p2)]],SH_L);
  poly([[a,Q.y(qyHor.p2)],[b,J.y(jsHor.p2)],[b,J.y(jsHor.low)],[a,Q.y(qyHor.base)]],SH_D);
  link([a,Q.y(qyHor.n3p)],[b,J.y(jsHor.n3)]);
  link([a,Q.y(qyHor.p2)],[b,J.y(jsHor.p2)]);
  link([a,Q.y(qyHor.base)],[b,J.y(jsHor.low)]);
  link([a,Q.y(qyHor.base)],[b,J.y(21.2)]);
  const c=J.red[1], d=D.sub[0];
  poly([[c,J.y(jsHor.n3)],[d,D.y(dxHor.n3)],[d,D.y(dxHor.p2)],[c,J.y(jsHor.p2)]],SH_L);
  poly([[c,J.y(jsHor.p2)],[d,D.y(dxHor.p2)],[d,D.y(dxHor.low)],[c,J.y(jsHor.low)]],SH_D);
  poly([[c,J.y(0)],[d,D.y(dxHor.n2)],[d,D.y(dxHor.bottom)],[c,J.y(0)+0.1]],SH_G);
  link([c,J.y(jsHor.n3)],[d,D.y(dxHor.n3)]);
  link([c,J.y(jsHor.p2)],[d,D.y(dxHor.p2)]);
  link([c,J.y(jsHor.low)],[d,D.y(dxHor.low)]);
  link([c,J.y(jsHor.iob)],[d,D.y(dxHor.iob)],"#e88a9b");
}
</script></body></html>
